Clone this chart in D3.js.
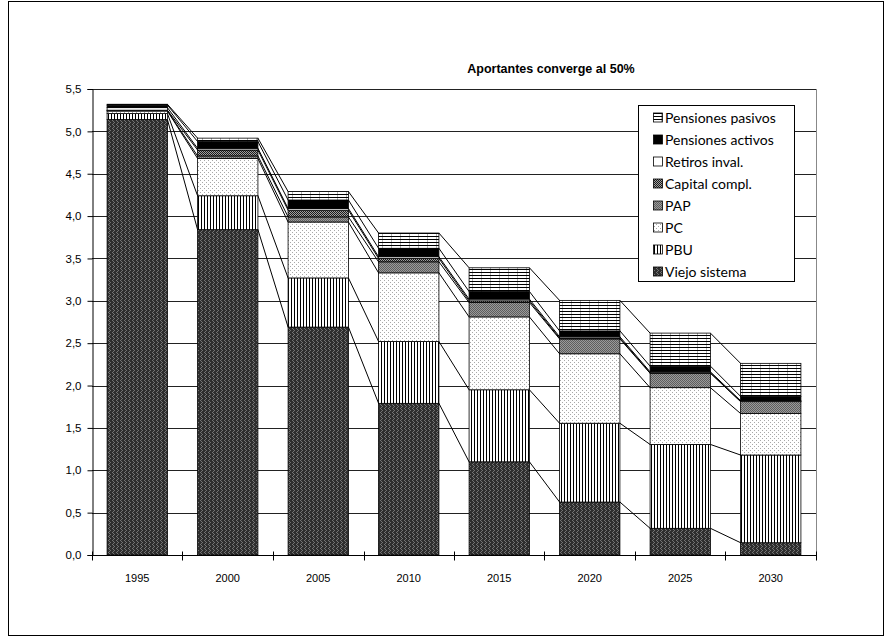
<!DOCTYPE html>
<html>
<head>
<meta charset="utf-8">
<script src="https://cdn.jsdelivr.net/npm/d3@7"></script>
<style>
  html, body { margin: 0; padding: 0; background: #fff; }
  svg { display: block; }
</style>
</head>
<body>
<svg id="chart" width="891" height="639"></svg>
<script>
// Years on the category axis
const years = ["1995", "2000", "2005", "2010", "2015", "2020", "2025", "2030"];

// Stacked components, bottom to top
const viejoSistema      = [5.14, 3.84, 2.69, 1.79, 1.10, 0.625, 0.315, 0.145];
const pbu               = [0.07, 0.40, 0.58, 0.73, 0.85, 0.93, 0.99, 1.035];
const pc                = [0.03, 0.44, 0.66, 0.81, 0.86, 0.82, 0.67, 0.49];
const pap               = [0.005, 0.03, 0.06, 0.13, 0.17, 0.175, 0.17, 0.14];
const capitalCompl      = [0.005, 0.07, 0.08, 0.04, 0.02, 0.01, 0.005, 0.002];
const retirosInval      = [0.03, 0.02, 0.02, 0.02, 0.02, 0.015, 0.012, 0.01];
const pensionesActivos  = [0.03, 0.08, 0.10, 0.10, 0.09, 0.07, 0.067, 0.05];
const pensionesPasivos  = [0.01, 0.04, 0.10, 0.18, 0.28, 0.36, 0.39, 0.39];

const seriesNames = ["Viejo sistema", "PBU", "PC", "PAP", "Capital compl.",
                     "Retiros inval.", "Pensiones activos", "Pensiones pasivos"];
const seriesValues = [viejoSistema, pbu, pc, pap, capitalCompl,
                      retirosInval, pensionesActivos, pensionesPasivos];
const seriesFills = ["url(#p-viejo)", "url(#p-pbu)", "url(#p-pc)", "url(#p-pap)",
                     "url(#p-cap)", "#ffffff", "#000000", "url(#p-pasivos)"];

const yTicks = [0, 0.5, 1, 1.5, 2, 2.5, 3, 3.5, 4, 4.5, 5, 5.5];
const title = "Aportantes converge al 50%";

const svg = d3.select("#chart");

// ---- fill patterns ----
const defs = svg.append("defs");
function pattern(id, w, h, build) {
  const p = defs.append("pattern").attr("id", id)
    .attr("patternUnits", "userSpaceOnUse").attr("width", w).attr("height", h);
  build(p);
}
function px(p, x, y, c, w = 1, h = 1) {
  p.append("rect").attr("x", x).attr("y", y).attr("width", w).attr("height", h).attr("fill", c);
}
pattern("p-viejo", 4, 4, p => {
  px(p, 0, 0, "#2e2e2e", 4, 4);
  px(p, 0, 0, "#747474"); px(p, 1, 1, "#747474");
  px(p, 2, 2, "#747474"); px(p, 1, 3, "#747474");
});
pattern("p-pbu", 3, 3, p => {
  px(p, 0, 0, "#ffffff", 3, 3);
  px(p, 0, 0, "#000000", 1, 3);
});
pattern("p-pc", 4, 4, p => {
  px(p, 0, 0, "#ffffff", 4, 4);
  px(p, 0, 0, "#a8a8a8"); px(p, 2, 2, "#a8a8a8");
});
pattern("p-pap", 2, 2, p => {
  px(p, 0, 0, "#9a9a9a", 2, 2);
  px(p, 0, 0, "#5e5e5e"); px(p, 1, 1, "#5e5e5e");
});
pattern("p-cap", 2, 2, p => {
  px(p, 0, 0, "#a0a0a0", 2, 2);
  px(p, 0, 0, "#1a1a1a"); px(p, 1, 1, "#1a1a1a");
});
pattern("p-pasivos", 9, 3, p => {
  px(p, 0, 0, "#ffffff", 9, 3);
  px(p, 4, 0, "#b0b0b0", 1, 3);
  px(p, 0, 2, "#000000", 9, 1);
});

// ---- outer frame ----
svg.append("rect").attr("x", 8.5).attr("y", 1.5).attr("width", 875).attr("height", 634)
  .attr("fill", "#fff").attr("stroke", "#000").attr("stroke-width", 1);

// ---- scales ----
const x = d3.scaleBand().domain(years).range([92, 816]).paddingInner(1 / 3).paddingOuter(1 / 6);
const y = d3.scaleLinear().domain([0, 5.5]).range([555, 89]);
const crisp = v => Math.round(v) + 0.5;

// gridlines
svg.append("g").selectAll("line").data(yTicks.filter(d => d > 0)).join("line")
  .attr("x1", 92).attr("x2", 816)
  .attr("y1", d => crisp(y(d))).attr("y2", d => crisp(y(d)))
  .attr("stroke", "#222").attr("stroke-width", 1);
// right edge of plot area
svg.append("line").attr("x1", 816.5).attr("x2", 816.5).attr("y1", y(5.5)).attr("y2", 555)
  .attr("stroke", "#888");

// ---- stacks ----
const stacked = years.map((yr, i) => {
  let acc = 0;
  return seriesValues.map(vals => {
    const y0 = acc; acc += vals[i];
    return { y0, y1: acc };
  });
});

// series lines joining the top of each layer between neighbouring bars
const sl = svg.append("g");
for (let s = 0; s < seriesValues.length; s++) {
  for (let i = 0; i < years.length - 1; i++) {
    sl.append("line")
      .attr("x1", x(years[i]) + x.bandwidth()).attr("y1", y(stacked[i][s].y1))
      .attr("x2", x(years[i + 1])).attr("y2", y(stacked[i + 1][s].y1))
      .attr("stroke", "#000").attr("stroke-width", 1);
  }
}

const bars = svg.append("g");
years.forEach((yr, i) => {
  stacked[i].forEach((seg, s) => {
    bars.append("rect")
      .attr("x", x(yr)).attr("width", x.bandwidth())
      .attr("y", y(seg.y1)).attr("height", Math.max(0, y(seg.y0) - y(seg.y1)))
      .attr("fill", seriesFills[s])
      .attr("stroke", "#000").attr("stroke-width", 0.8);
  });
});

// ---- axes ----
const yAxis = d3.axisLeft(y).tickValues(yTicks).tickSize(5)
  .tickFormat(d => d3.format(".1f")(d).replace(".", ","));
const gy = svg.append("g").attr("transform", "translate(92.5,0)").call(yAxis);
gy.select(".domain").attr("stroke", "#000");
gy.selectAll(".tick line").attr("stroke", "#000");
gy.selectAll(".tick text").attr("x", -11).attr("font-family", "Liberation Sans, Arial, sans-serif")
  .attr("font-size", 11.5).attr("fill", "#000");

const gx = svg.append("g").attr("transform", "translate(0,555.5)");
gx.append("line").attr("x1", 92).attr("x2", 816).attr("stroke", "#000");
const bounds = years.map(yr => x(yr) - x.step() * x.paddingInner() / 2);
bounds.push(816);
gx.selectAll(".tk").data(bounds).join("line").attr("class", "tk")
  .attr("x1", d => crisp(d)).attr("x2", d => crisp(d)).attr("y1", -4).attr("y2", 5)
  .attr("stroke", "#000");
gx.selectAll("text").data(years).join("text")
  .attr("x", d => x(d) + x.bandwidth() / 2).attr("y", 26)
  .attr("text-anchor", "middle")
  .attr("font-family", "Liberation Sans, Arial, sans-serif").attr("font-size", 11)
  .text(d => d);

// ---- title ----
svg.append("text").attr("x", 551).attr("y", 73).attr("text-anchor", "middle")
  .attr("font-family", "Liberation Sans, Arial, sans-serif").attr("font-size", 12.5)
  .attr("font-weight", "bold").text(title);

// ---- legend ----
const lg = svg.append("g");
lg.append("rect").attr("x", 638.5).attr("y", 105.5).attr("width", 156).attr("height", 176)
  .attr("fill", "#fff").attr("stroke", "#000");
const legendOrder = d3.range(seriesNames.length).reverse();
legendOrder.forEach((s, k) => {
  const cy = 117.5 + k * 22;
  lg.append("rect").attr("x", 653.5).attr("y", cy - 4.5).attr("width", 9).attr("height", 9)
    .attr("fill", seriesFills[s]).attr("stroke", "#000").attr("stroke-width", 0.8);
  lg.append("text").attr("x", 665).attr("y", cy + 5)
    .attr("font-family", "Lato, 'Noto Sans', sans-serif").attr("font-size", 14)
    .text(seriesNames[s]);
});
</script>
</body>
</html>
